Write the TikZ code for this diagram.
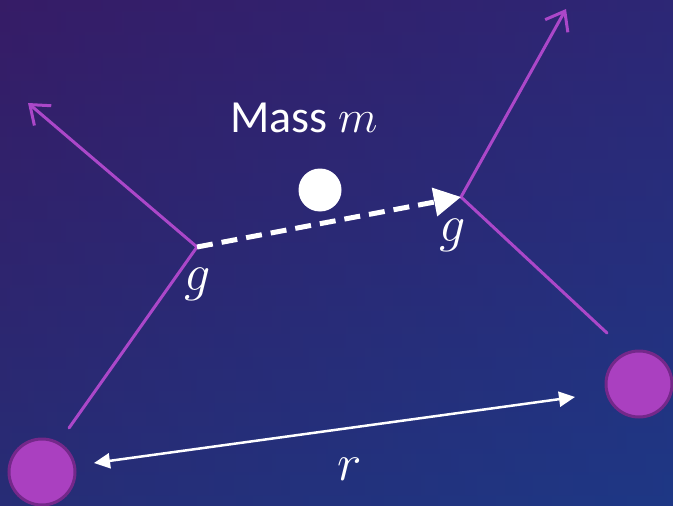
\RequirePackage{fix-cm}
\documentclass[tikz,border=0pt]{standalone}
\usepackage{fontspec}
\setmainfont{Carlito}
\usetikzlibrary{arrows.meta}
\definecolor{bgtop}{RGB}{52,30,104}
\definecolor{bgbottom}{RGB}{30,54,126}
\definecolor{bgleft}{RGB}{60,24,100}
\definecolor{bgright}{RGB}{30,60,150}
\definecolor{fieldpurple}{RGB}{171,71,201}
\definecolor{bodypurple}{RGB}{170,64,192}
\definecolor{bodyrim}{RGB}{116,40,138}

\begin{document}
\begin{tikzpicture}[
  x=1pt, y=-1pt,
  every node/.style={font=\fontsize{46}{52}\selectfont, text=white},
  body/.style={
    circle, draw=bodyrim, line width=3pt, fill=bodypurple,
    minimum size=66pt, inner sep=0pt
  },
  probe/.style={circle, fill=white, minimum size=43pt, inner sep=0pt},
  field/.style={draw=fieldpurple, line width=3pt, line cap=round, line join=round},
  fieldarrow/.style={field, -{Straight Barb[length=17pt, width=26pt, line width=3pt]}},
  move/.style={
    draw=white, line width=5pt, dash pattern=on 16pt off 9pt,
    -{Triangle[length=27pt, width=28pt]}
  },
  dist/.style={
    draw=white, line width=2.5pt,
    {Triangle[length=16pt, width=15pt]}-{Triangle[length=16pt, width=15pt]}
  },
  lbl/.style={anchor=base, inner sep=0pt},
  sym/.style={lbl, font=\fontsize{52}{58}\selectfont}
]

  % Sfondo
  \shade[top color=bgtop, bottom color=bgbottom] (0,0) rectangle (673,506);
  \shade[left color=bgleft, right color=bgright, fill opacity=0.3] (0,0) rectangle (673,506);
  \useasboundingbox (0,0) rectangle (673,506);
  \clip (0,0) rectangle (673,506);

  % Corpi e massa di prova
  \node[body] (left) at (42,472) {};
  \node[body] (right) at (639,384) {};
  \node[probe] (mass) at (320,190) {};
  \node[lbl] (masslabel) at (304,132) {Mass $m$};

  % Punti delle linee di campo
  \coordinate (g1) at (197,247);
  \coordinate (g2) at (461,197);
  \coordinate (leftfoot) at (69,428);
  \coordinate (lefttip) at (28,103);
  \coordinate (rightfoot) at (607,333);
  \coordinate (righttip) at (566,9);
  \coordinate (rleft) at (94,463);
  \coordinate (rright) at (575,397);

  % Linee di campo
  \draw[field] (leftfoot) -- (g1);
  \draw[fieldarrow] (g1) -- (lefttip);
  \draw[field] (rightfoot) -- (g2);
  \draw[fieldarrow] (g2) -- (righttip);

  % Spostamento della massa
  \draw[move] (g1) -- (g2);

  % Etichette g
  \node[sym] (g1label) at (198,290) {$g$};
  \node[sym] (g2label) at (453,241) {$g$};

  % Distanza r
  \draw[dist] (rleft) -- (rright);
  \node[sym] (rlabel) at (350,480) {$r$};

\end{tikzpicture}
\end{document}
